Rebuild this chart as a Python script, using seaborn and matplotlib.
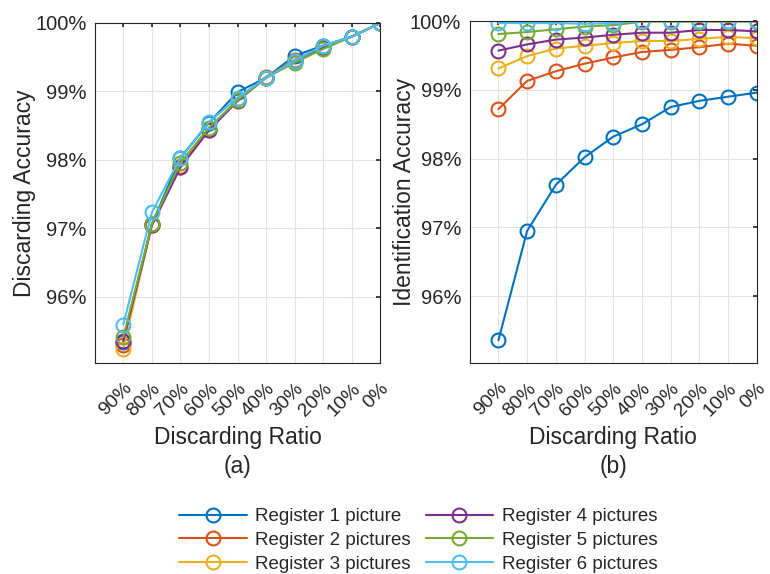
import numpy as np
import pandas as pd
import matplotlib
matplotlib.use("Agg")
import matplotlib.pyplot as plt
import seaborn as sns

ratios = ["90%", "80%", "70%", "60%", "50%", "40%", "30%", "20%", "10%", "0%"]
series = ["Register 1 picture", "Register 2 pictures", "Register 3 pictures",
          "Register 4 pictures", "Register 5 pictures", "Register 6 pictures"]
colors = ["#0072BD", "#D95319", "#EDB120", "#7E2F8E", "#77AC30", "#4DBEEE"]

# (a) discarding accuracy, %
disc_1 = [95.33, 97.06, 98.03, 98.54, 98.99, 99.20, 99.52, 99.67, 99.80, 100.0]
disc_2 = [95.30, 97.05, 97.90, 98.44, 98.87, 99.21, 99.46, 99.65, 99.80, 100.0]
disc_3 = [95.24, 97.05, 97.91, 98.45, 98.87, 99.20, 99.44, 99.64, 99.80, 100.0]
disc_4 = [95.35, 97.04, 97.89, 98.43, 98.86, 99.20, 99.44, 99.64, 99.80, 100.0]
disc_5 = [95.41, 97.06, 97.96, 98.47, 98.87, 99.20, 99.42, 99.62, 99.80, 100.0]
disc_6 = [95.59, 97.23, 98.03, 98.55, 98.91, 99.20, 99.45, 99.67, 99.80, 100.0]

# (b) identification accuracy, %
ident_1 = [95.36, 96.95, 97.62, 98.02, 98.32, 98.50, 98.75, 98.84, 98.90, 98.96]
ident_2 = [98.72, 99.13, 99.27, 99.38, 99.47, 99.55, 99.58, 99.62, 99.67, 99.64]
ident_3 = [99.31, 99.49, 99.60, 99.64, 99.68, 99.71, 99.71, 99.74, 99.77, 99.75]
ident_4 = [99.57, 99.66, 99.73, 99.76, 99.80, 99.83, 99.83, 99.87, 99.87, 99.85]
ident_5 = [99.81, 99.84, 99.88, 99.92, 99.94, 99.99, 99.99, 99.99, 99.99, 99.99]
ident_6 = [99.97, 99.97, 99.97, 99.96, 99.97, 100.0, 100.0, 100.0, 100.0, 100.0]

disc = [disc_1, disc_2, disc_3, disc_4, disc_5, disc_6]
ident = [ident_1, ident_2, ident_3, ident_4, ident_5, ident_6]

sns.set_theme(style="white")
plt.rcParams["font.family"] = ["Liberation Sans", "DejaVu Sans"]

fig = plt.figure(figsize=(7.7, 5.74), dpi=100)
ax_a = fig.add_axes([0.123, 0.3676, 0.371, 0.5924])
ax_b = fig.add_axes([0.610, 0.3676, 0.373, 0.5958])

xpos = np.arange(1, len(ratios) + 1)


def draw(ax, values, ylabel, ylabelpad):
    for name, col, vals in zip(series, colors, values):
        df = pd.DataFrame({"x": xpos, "y": vals})
        sns.lineplot(data=df, x="x", y="y", ax=ax, color=col, marker="o",
                     markersize=10, markerfacecolor="none", markeredgecolor=col,
                     markeredgewidth=1.5, linewidth=1.5, label=name, legend=False)
    ax.set_xlim(0, 10)
    ax.set_ylim(95.03, 100)
    ax.set_xticks(xpos)
    ax.set_xticklabels(ratios, rotation=45, ha="right", rotation_mode="anchor")
    ax.set_yticks([96, 97, 98, 99, 100])
    ax.set_yticklabels(["96%", "97%", "98%", "99%", "100%"])
    ax.grid(True, color="#e3e3e3", linewidth=0.8)
    ax.tick_params(direction="in", top=True, right=True, length=3,
                   labelsize=14.5, colors="#262626", pad=6)
    ax.tick_params(axis="x", pad=12, labelsize=14)
    for s in ax.spines.values():
        s.set_color("#262626")
        s.set_linewidth(0.8)
    ax.set_xlabel("Discarding Ratio", fontsize=16.5, color="#262626", labelpad=5)
    ax.set_ylabel(ylabel, fontsize=16.5, color="#262626", labelpad=ylabelpad)


draw(ax_a, disc, "Discarding Accuracy", -1)
draw(ax_b, ident, "Identification Accuracy", -4)

fig.text(0.308, 1 - 467 / 574, "(a)", ha="center", va="center", fontsize=16.5, color="#262626")
fig.text(0.797, 1 - 467 / 574, "(b)", ha="center", va="center", fontsize=16.5, color="#262626")

handles, labels = ax_a.get_legend_handles_labels()
fig.legend(handles, labels, loc="upper center", bbox_to_anchor=(0.543, 0.128),
           ncol=2, frameon=False, fontsize=13.5, handlelength=3.6,
           handletextpad=0.45, columnspacing=0.8, labelspacing=0.35,
           borderaxespad=0)

fig.savefig("out.png", dpi=100)
